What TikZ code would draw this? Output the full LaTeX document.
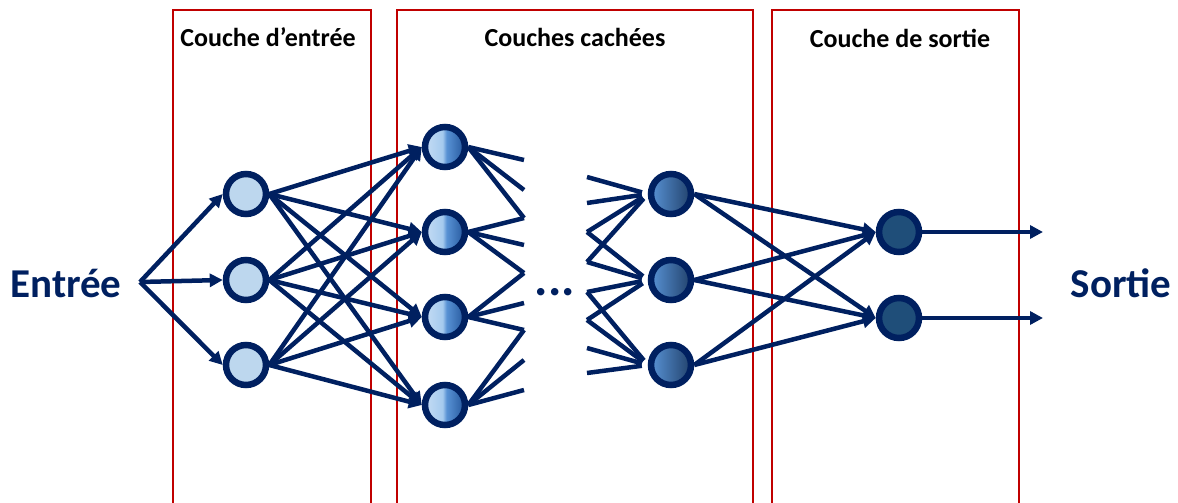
\documentclass[tikz,border=0pt]{standalone}
\usepackage{fontspec}
\setmainfont{Carlito}
\usetikzlibrary{arrows.meta}

\definecolor{marine}{RGB}{0,32,96}
\definecolor{rougecadre}{RGB}{192,0,0}
\definecolor{bleuclair}{RGB}{189,215,238}
\definecolor{bleusortie}{RGB}{31,78,121}
\definecolor{bleuA}{RGB}{197,220,244}
\definecolor{bleuB}{RGB}{165,202,238}
\definecolor{bleuC}{RGB}{36,86,156}
\definecolor{bleuD}{RGB}{88,146,212}
\definecolor{bleuE}{RGB}{34,66,108}

% Degrades des couches cachees
\pgfdeclarehorizontalshading{cacheeA}{100bp}{color(0bp)=(bleuA); color(25bp)=(bleuA); color(47bp)=(bleuB); color(52bp)=(bleuD); color(75bp)=(bleuC); color(100bp)=(bleuC)}
\pgfdeclarehorizontalshading{cacheeB}{100bp}{color(0bp)=(bleuD); color(25bp)=(bleuD); color(75bp)=(bleuE); color(100bp)=(bleuE)}

\begin{document}
\begin{tikzpicture}[x=1pt,y=-1pt,
    neurone/.style={circle,draw=marine,line width=6.5pt,minimum size=40pt,inner sep=0pt},
    entree/.style={neurone,fill=bleuclair},
    cachea/.style={neurone,shading=cacheeA},
    cacheb/.style={neurone,shading=cacheeB},
    sortie/.style={neurone,fill=bleusortie},
    lien/.style={draw=marine,line width=4.5pt},
    fleche/.style={lien,-{Triangle[length=13pt,width=13pt]}},
    cadre/.style={draw=rougecadre,line width=2pt},
    titre/.style={font=\bfseries\fontsize{26}{30}\selectfont,text=black,anchor=base},
    grand/.style={font=\bfseries\fontsize{41}{48}\selectfont,text=marine,anchor=base}]
    \useasboundingbox (0,0) rectangle (1178,503);

    % Dessine les cadres rouges
    \draw[cadre] (173,503) -- (173,10) -- (371,10) -- (371,503);
    \draw[cadre] (397,503) -- (397,10) -- (753,10) -- (753,503);
    \draw[cadre] (772,503) -- (772,10) -- (1019,10) -- (1019,503);

    % Titres des couches
    \node[titre] (t1) at (268,47) {Couche d’entrée};
    \node[titre] (t2) at (575,47) {Couches cachées};
    \node[titre] (t3) at (900,48) {Couche de sortie};

    % Neurones
    \node[entree] (e1) at (246,194) {};
    \node[entree] (e2) at (246,280) {};
    \node[entree] (e3) at (246,365) {};

    \node[cachea] (h1) at (445,147) {};
    \node[cachea] (h2) at (445,232) {};
    \node[cachea] (h3) at (445,317) {};
    \node[cachea] (h4) at (445,405) {};

    \node[cacheb] (c1) at (671,194) {};
    \node[cacheb] (c2) at (671,280) {};
    \node[cacheb] (c3) at (671,365) {};

    \node[sortie] (s1) at (899,232) {};
    \node[sortie] (s2) at (899,318) {};

    % Etiquettes
    \node[grand] (lentree) at (66,297) {Entrée};
    \node[grand] (lsortie) at (1121,297) {Sortie};
    \node[grand,font=\bfseries\fontsize{50}{56}\selectfont] (points) at (555,295) {...};

    % Entree vers la premiere couche
    \coordinate (x0) at (140,282);
    \foreach \i in {1,2,3}
        \draw[fleche] (x0) -- (e\i.west);

    \foreach \i in {1,2,3}
        \foreach \j in {1,...,4}
            \draw[fleche] (e\i.east) -- (h\j.west);

    % Liens coupes apres la premiere couche cachee
    \foreach \y [count=\k] in {160,190,218,245,273,303,330,360,390}
        \coordinate (a\k) at (524,\y);
    \foreach \j in {1,...,4}
        \foreach \d in {0,1,2} {
            \pgfmathtruncatemacro\k{2*\j-1+\d}
            \draw[lien] (h\j.east) -- (a\k);
        }

    % Liens coupes avant la derniere couche cachee
    \foreach \y [count=\k] in {177,203,232,262,292,320,348,373}
        \coordinate (b\k) at (587,\y);
    \foreach \j in {1,2,3}
        \foreach \d in {1,...,4} {
            \pgfmathtruncatemacro\k{2*(\j-1)+\d}
            \draw[lien,shorten >=6pt] (b\k) -- (c\j.west);
        }

    % Derniere couche cachee vers la sortie
    \foreach \i in {1,2,3}
        \foreach \j in {1,2}
            \draw[fleche] (c\i.east) -- (s\j.west);

    \coordinate (f1) at (1043,232);
    \coordinate (f2) at (1043,318);
    \draw[fleche] (s1.east) -- (f1);
    \draw[fleche] (s2.east) -- (f2);

\end{tikzpicture}
\end{document}
